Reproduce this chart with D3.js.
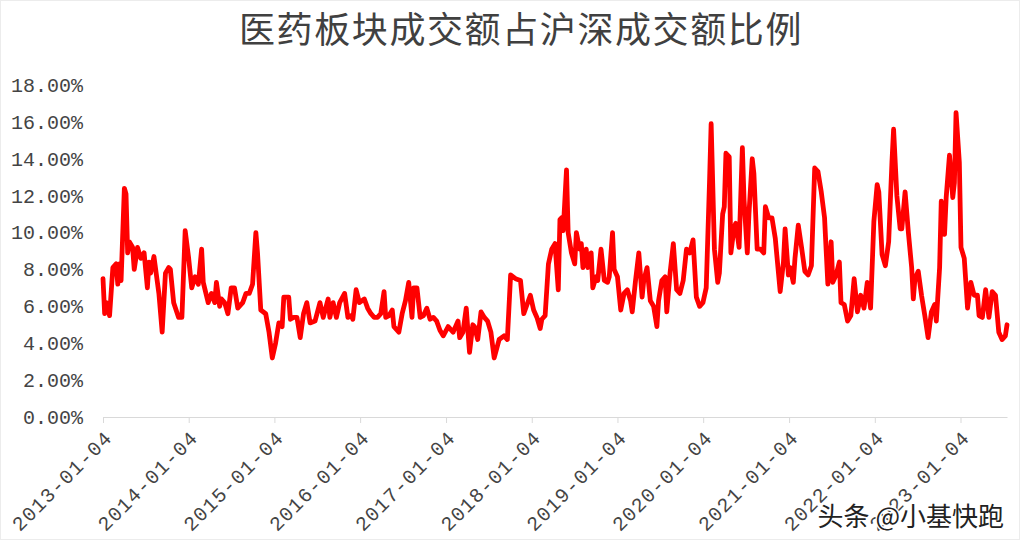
<!DOCTYPE html>
<html>
<head>
<meta charset="utf-8">
<script src="https://cdn.jsdelivr.net/npm/d3@7"></script>
<style>
  body { margin: 0; background: #fff; }
  #chart svg { display: block; }
</style>
</head>
<body>
<div id="chart"></div>
<script>
const title = "医药板块成交额占沪深成交额比例"
const watermark = "头条 @小基快跑"
const startDate = "2013-01-04"
const endDate = "2023-07-21"
const yTicks = [0, 2, 4, 6, 8, 10, 12, 14, 16, 18]
const xTickLabels = ["2013-01-04", "2014-01-04", "2015-01-04", "2016-01-04", "2017-01-04",
    "2018-01-04", "2019-01-04", "2020-01-04", "2021-01-04", "2022-01-04", "2023-01-04"]

// weeks since 2013-01-04
const weeks = [
    0, 1, 2, 4, 6, 8, 9, 10, 11, 13, 14, 15, 16, 18, 19, 21, 23, 25, 27, 28, 29, 31, 34, 36, 38, 40, 41, 43, 46, 48,
    50, 52, 54, 56, 58, 60, 61, 64, 66, 68, 69, 71, 72, 74, 76, 78, 80, 82, 85, 87, 89, 91, 93, 94, 96, 99,
    101, 103, 105, 107, 109, 110, 113, 114, 116, 118, 120, 122, 124, 126, 129, 132, 134, 137, 138, 140, 142, 144, 147, 149,
    151, 152, 154, 156, 159, 161, 163, 165, 167, 169, 171, 172, 174, 176, 177, 180, 182, 184, 186, 188, 189, 191, 193, 195, 197, 199,
    201, 203, 205, 207, 210, 213, 216, 217, 219, 221, 223, 225, 226, 228, 230, 232, 234, 236, 238, 241, 244, 246, 248,
    251, 254, 256, 258, 260, 262, 264, 266, 267, 269, 271, 273, 275, 277, 278, 279, 280, 282, 283, 285, 287, 288, 290, 291, 292, 294, 295, 297, 298,
    300, 301, 303, 305, 307, 308, 310, 311, 313, 315, 317, 319, 321, 322, 324, 326, 328, 329, 331, 333, 335, 337, 338, 340, 342, 343, 345, 347, 349,
    351, 353, 355, 357, 359, 361, 363, 365, 367, 369, 370, 372, 374, 375, 377, 378, 379, 381, 382, 384, 385, 387, 389, 390, 392, 393, 395, 396, 398,
    400, 402, 403, 405, 407, 409, 412, 414, 415, 417, 418, 420, 421, 423, 425, 427, 429, 431, 433, 435, 437, 439, 441, 443, 444, 446, 448, 449,
    451, 453, 455, 457, 459, 461, 463, 465, 467, 469, 471, 472, 474, 476, 478, 480, 481, 483, 485, 486, 488, 490, 492, 493, 494, 496, 498,
    500, 502, 504, 506, 507, 509, 510, 512, 513, 515, 517, 518, 519, 521, 522, 524, 526, 528, 530, 532, 533, 535, 537, 539, 541, 543, 545, 547, 549, 550
]

// share of turnover, %
const ratios = [
    7.5, 5.6, 6.2, 5.5, 8.1, 8.3, 7.2, 8.3, 7.4, 12.4, 12.1, 8.9, 9.5, 9.2, 8.0, 9.2, 8.6, 8.9, 7.0, 8.4, 7.8, 8.7, 6.7, 4.6, 7.8, 8.1, 8.0, 6.2, 5.4, 5.4,
    10.1, 8.7, 7.0, 7.6, 7.2, 9.1, 7.3, 6.2, 6.7, 6.2, 7.3, 6.0, 6.4, 6.2, 5.6, 7.0, 7.0, 5.9, 6.2, 6.7, 6.7, 7.2, 10.0, 8.9, 5.8, 5.6,
    4.6, 3.2, 4.0, 5.1, 4.9, 6.5, 6.5, 5.3, 5.4, 5.4, 4.3, 5.6, 6.2, 5.1, 5.2, 6.2, 5.4, 6.4, 5.4, 6.2, 5.4, 6.2, 6.7, 5.4,
    5.5, 5.3, 6.9, 6.2, 6.4, 5.9, 5.6, 5.4, 5.4, 5.6, 6.8, 5.4, 5.5, 5.8, 4.9, 4.6, 5.6, 6.3, 7.3, 5.4, 7.0, 7.0, 5.4, 5.5, 5.9, 5.3,
    5.4, 5.2, 4.7, 4.4, 4.9, 4.6, 5.2, 4.3, 4.6, 5.9, 3.5, 5.0, 4.9, 4.2, 5.7, 5.4, 5.2, 4.6, 3.2, 4.2, 4.4, 4.2, 7.7,
    7.5, 7.4, 5.6, 6.1, 6.6, 5.8, 5.4, 4.8, 5.3, 5.5, 8.3, 9.1, 9.4, 6.9, 10.7, 10.8, 10.1, 13.4, 10.0, 8.9, 8.3, 10.0, 9.1, 9.4, 8.1, 9.1, 8.1, 8.9, 7.0,
    7.6, 7.4, 9.1, 7.4, 7.3, 7.6, 10.0, 8.0, 7.6, 5.8, 6.7, 6.9, 6.3, 5.7, 7.4, 8.9, 6.5, 7.4, 8.1, 6.3, 6.0, 4.9, 6.3, 7.4, 7.6, 5.7, 7.8, 9.4, 6.9,
    6.7, 7.4, 9.1, 8.9, 9.6, 6.5, 6.0, 6.2, 7.0, 12.7, 15.9, 9.1, 7.3, 7.8, 11.0, 11.4, 14.3, 14.1, 8.9, 10.3, 10.5, 9.2, 14.6, 11.8, 8.9, 11.0, 14.0, 13.2, 9.1,
    9.1, 8.9, 11.4, 10.8, 10.8, 9.7, 6.8, 8.4, 10.2, 7.7, 8.1, 7.3, 8.6, 10.4, 9.2, 7.9, 7.7, 8.2, 13.5, 13.3, 12.2, 10.8, 7.2, 9.5, 7.3, 7.7, 8.4, 6.2,
    6.1, 5.2, 5.5, 7.5, 5.7, 6.6, 5.9, 7.3, 5.9, 10.6, 12.6, 12.2, 8.8, 8.2, 9.5, 13.8, 15.6, 12.0, 10.2, 10.2, 12.2, 10.0, 8.1, 6.4, 7.5, 7.9, 6.6,
    5.5, 4.3, 5.7, 6.1, 5.2, 8.1, 11.7, 9.9, 11.9, 14.2, 11.9, 12.7, 16.5, 13.8, 9.2, 8.6, 5.9, 7.3, 6.6, 6.6, 5.5, 5.4, 6.9, 5.4, 6.8, 6.6, 4.6, 4.2, 4.4, 5.0
]

let drawChart = function () {
    const width = 1020
    const height = 540
    const parse = d3.timeParse("%Y-%m-%d")
    const start = parse(startDate)

    let points = weeks.map(function (w, i) {
        return { date: d3.timeDay.offset(start, w * 7), value: ratios[i] }
    })

    const svg = d3.select("#chart").append("svg")
        .attr("width", width)
        .attr("height", height)

    svg.append("rect")
        .attr("x", 0.5).attr("y", 0.5)
        .attr("width", width - 1).attr("height", height - 1)
        .attr("fill", "#fff")
        .attr("stroke", "#ececec")

    const x = d3.scaleTime()
        .domain([start, parse(endDate)])
        .range([103, 1007])

    const y = d3.scaleLinear()
        .domain([0, 18])
        .range([417, 85])

    svg.append("text")
        .attr("x", 521)
        .attr("y", 27)
        .attr("text-anchor", "middle")
        .attr("dominant-baseline", "central")
        .attr("font-family", "'Noto Sans CJK SC', sans-serif")
        .attr("font-size", 36)
        .attr("letter-spacing", 1.6)
        .attr("fill", "#404040")
        .text(title)

    // y axis, labels only
    const yAxis = svg.append("g")
        .attr("transform", "translate(103,0)")
        .call(d3.axisLeft(y)
            .tickValues(yTicks)
            .tickFormat(d => d.toFixed(2) + "%")
            .tickSize(0)
            .tickPadding(20))
    yAxis.select(".domain").remove()
    yAxis.selectAll("text")
        .attr("font-family", "'Liberation Mono', monospace")
        .attr("font-size", 20)
        .attr("fill", "#444")

    // x axis
    const xAxis = svg.append("g")
        .attr("transform", "translate(0,417)")
        .call(d3.axisBottom(x)
            .tickValues(xTickLabels.map(parse))
            .tickFormat(d3.timeFormat("%Y-%m-%d"))
            .tickSize(6)
            .tickSizeOuter(0))
    xAxis.select(".domain").attr("stroke", "#d9d9d9")
    xAxis.selectAll(".tick line").attr("stroke", "#d9d9d9")
    xAxis.selectAll("text")
        .attr("font-family", "'Liberation Mono', monospace")
        .attr("font-size", 20)
        .attr("letter-spacing", 1.2)
        .attr("fill", "#444")
        .attr("text-anchor", "end")
        .attr("x", 0)
        .attr("y", 0)
        .attr("dy", "0.35em")
        .attr("transform", "translate(5,17) rotate(-45)")

    const line = d3.line()
        .x(d => x(d.date))
        .y(d => y(d.value))

    svg.append("path")
        .datum(points)
        .attr("d", line)
        .attr("fill", "none")
        .attr("stroke", "#ff0000")
        .attr("stroke-width", 4.8)
        .attr("stroke-linejoin", "round")
        .attr("stroke-linecap", "round")

    svg.append("text")
        .attr("x", 1004)
        .attr("y", 514)
        .attr("text-anchor", "end")
        .attr("dominant-baseline", "central")
        .attr("font-family", "'Noto Sans CJK SC', sans-serif")
        .attr("font-size", 26)
        .attr("fill", "#222")
        .attr("stroke", "#fff")
        .attr("stroke-width", 3)
        .attr("paint-order", "stroke")
        .text(watermark)
}

drawChart()
</script>
</body>
</html>
